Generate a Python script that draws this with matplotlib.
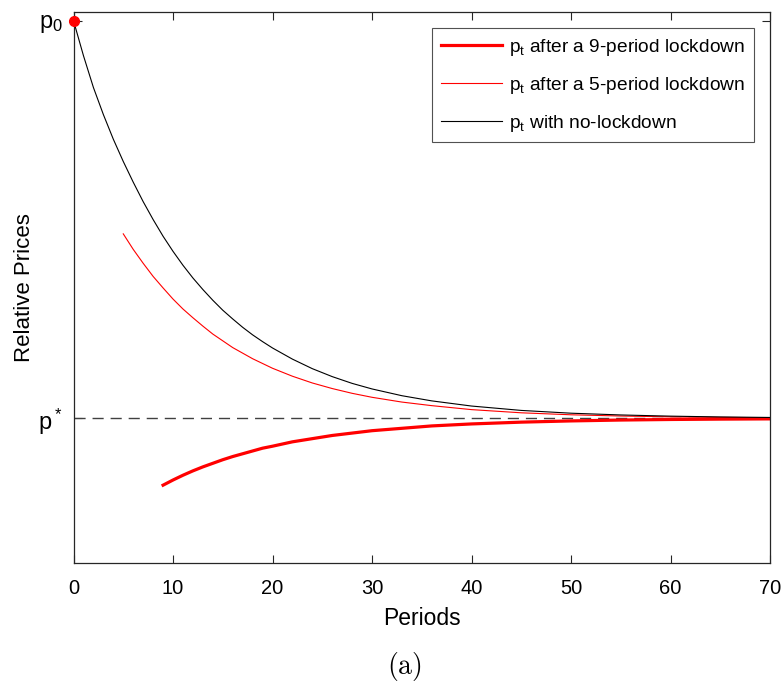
import matplotlib
matplotlib.use("Agg")
import matplotlib.pyplot as plt

plt.rcParams['font.family'] = ['Liberation Sans', 'DejaVu Sans']
plt.rcParams['mathtext.fontset'] = 'cm'

# prices relative to the steady state p* = 1, with p0 = 2
periods = [0, 1, 2, 3, 4, 5, 6, 7, 8, 9, 10, 11, 12, 13, 14, 15, 16, 17, 18,
           19, 20, 22, 24, 26, 28, 30, 33, 36, 40, 45, 50, 55, 60, 65, 70]
p_no_lockdown = [2.000, 1.912, 1.832, 1.764, 1.702, 1.646, 1.594, 1.545, 1.500,
                 1.458, 1.420, 1.385, 1.353, 1.324, 1.297, 1.272, 1.250, 1.229,
                 1.210, 1.193, 1.177, 1.149, 1.125, 1.105, 1.088, 1.074, 1.057,
                 1.044, 1.031, 1.020, 1.013, 1.0086, 1.0056, 1.0036, 1.0023]

periods_5 = [5, 6, 7, 8, 9, 10, 11, 12, 13, 14, 15, 16, 17, 18, 19, 20, 22, 24,
             26, 28, 30, 33, 36, 40, 45, 50, 55, 60, 65, 70]
p_lockdown_5 = [1.464, 1.425, 1.390, 1.357, 1.328, 1.300, 1.275, 1.253, 1.232,
                1.212, 1.195, 1.178, 1.164, 1.150, 1.138, 1.126, 1.106, 1.089,
                1.075, 1.063, 1.053, 1.041, 1.032, 1.022, 1.014, 1.009, 1.0059,
                1.0038, 1.0025, 1.0016]

periods_9 = [9, 10, 11, 12, 13, 14, 15, 16, 17, 18, 19, 20, 22, 24, 26, 28, 30,
             33, 36, 40, 45, 50, 55, 60, 65, 70]
p_lockdown_9 = [0.832, 0.845, 0.857, 0.868, 0.878, 0.887, 0.896, 0.904, 0.911,
                0.918, 0.925, 0.930, 0.941, 0.949, 0.957, 0.963, 0.969, 0.975,
                0.981, 0.986, 0.9905, 0.9936, 0.9958, 0.9972, 0.9981, 0.9987]

p0 = 2.0
p_star = 1.0

fig = plt.figure(figsize=(7.83, 6.88), dpi=100)
ax = fig.add_axes([0.0939, 0.1821, 0.8895, 0.8005])

ax.axhline(p_star, color='#404040', lw=1.0, dashes=(8, 5))
ax.plot(periods_9, p_lockdown_9, color='red', lw=2.3, solid_joinstyle='round',
        label=r'$\mathregular{p_t}$ after a 9-period lockdown')
ax.plot(periods_5, p_lockdown_5, color='red', lw=0.8, solid_joinstyle='round',
        label=r'$\mathregular{p_t}$ after a 5-period lockdown')
ax.plot(periods, p_no_lockdown, color='black', lw=0.8, solid_joinstyle='round',
        label=r'$\mathregular{p_t}$ with no-lockdown')
ax.plot([0], [p0], 'o', color='red', ms=7, clip_on=False, zorder=5)

ax.set_xlim(0, 70)
ax.set_ylim(0.637, 2.022)
ax.set_xticks(range(0, 71, 10))
ax.set_yticks([p_star, p0])
ax.set_yticklabels([r'$\mathregular{p^*}$', r'$\mathregular{p_0}$'])
ax.tick_params(direction='in', length=6, width=0.8, color='#262626',
               top=True, right=True)
ax.tick_params(axis='x', labelsize=14.5, pad=12)
ax.tick_params(axis='y', labelsize=17, pad=8)
for side in ax.spines.values():
    side.set_color('#262626')
    side.set_linewidth(0.9)

ax.set_xlabel('Periods', fontsize=16.5, labelpad=6)
ax.set_ylabel('Relative Prices', fontsize=16)
ax.yaxis.set_label_coords(-0.056, 0.5)

leg = ax.legend(loc='upper right', fontsize=13.8, frameon=True, fancybox=False,
                edgecolor='#262626', handlelength=3.2, borderpad=0.45,
                labelspacing=0.88, borderaxespad=0.85, handletextpad=0.35)
leg.get_frame().set_linewidth(0.8)

fig.text(0.517, 0.02, r'$\mathrm{(a)}$', ha='center', fontsize=20)

fig.savefig('out.png', dpi=100)
